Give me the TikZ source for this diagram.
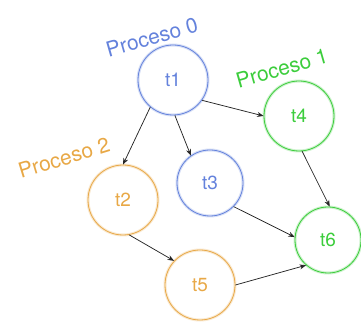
\documentclass[tikz,border=0pt]{standalone}
\usepackage{fontspec}
\setmainfont{TeX Gyre Heros}
\usetikzlibrary{arrows.meta}
\definecolor{pblue}{RGB}{100,130,220}
\definecolor{pgreen}{RGB}{60,205,60}
\definecolor{porange}{RGB}{232,168,70}
\begin{document}
\begin{tikzpicture}[x=1pt,y=1pt,
  task/.style={circle, draw=#1, line width=0.8pt, minimum size=70pt, inner sep=0pt,
    text=#1, font=\fontsize{19}{19}\selectfont,
    preaction={draw=#1!25, line width=3pt}},
  proc/.style={text=#1, font=\fontsize{21}{21}\selectfont, inner sep=0pt},
  dep/.style={-{Stealth[length=6.5pt,width=5pt]}, line width=0.75pt, black!85},
]
\useasboundingbox (0,0) rectangle (361,326);

% tasks
\node[task=pblue]   (t1) at (173,246) {t1};
\node[task=pblue, minimum size=66pt] (t3) at (210,143) {t3};
\node[task=pgreen]  (t4) at (299,210) {t4};
\node[task=pgreen, minimum size=66pt] (t6) at (328,86) {t6};
\node[task=porange] (t2) at (123,126) {t2};
\node[task=porange] (t5) at (200,41) {t5};

% process labels
\node[proc=pblue,   rotate=16] (p0) at (152,289) {Proceso 0};
\node[proc=pgreen,  rotate=16] (p1) at (282,258) {Proceso 1};
\node[proc=porange, rotate=17] (p2) at (64,168)  {Proceso 2};

% dependencies
\draw[dep] (t1.230) -- (t2.90);
\draw[dep] (t1.273) -- (t3.125);
\draw[dep] (t1.325) -- (t4.180);
\draw[dep] (t4.275) -- (t6.87);
\draw[dep] (t3.315) -- (t6.175);
\draw[dep] (t2.280) -- (t5.137);
\draw[dep] (t5.0)   -- (t6.229);
\end{tikzpicture}
\end{document}
